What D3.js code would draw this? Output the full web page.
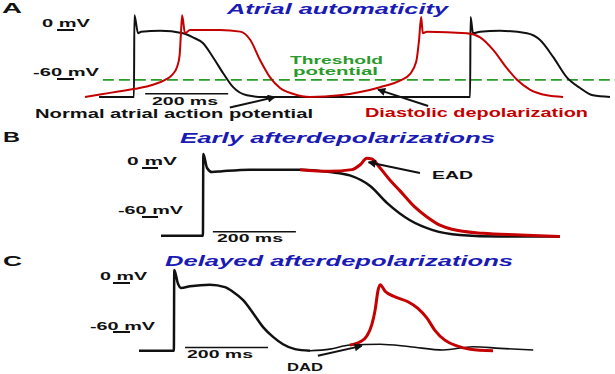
<!DOCTYPE html>
<html>
<head>
<meta charset="utf-8">
<script src="https://cdn.jsdelivr.net/npm/d3@7"></script>
<style>
  body { margin: 0; background: #fff; }
  text { font-family: "Liberation Sans", Arial, sans-serif; font-weight: bold; }
</style>
</head>
<body>
<div id="chart"></div>
<script>
// traces, as [time (ms), membrane potential (mV)]
// A - atrial automaticity
const atrialNormal = [[34,-82],[118,-82],[119,18],[128,-4],[135,-2],[181,-1],[236,-4],[260,-9],[284,-16],
  [308,-33],[333,-53],[357,-70],[390,-80],[429,-82],[928,-82],[929,16],[935,-4],[952,-2],[1000,-1],
  [1065,-4],[1096,-12],[1128,-33],[1161,-58],[1193,-71],[1224,-80],[1265,-82]]
const atrialAuto = [[0,-82],[36,-79],[84,-75],[120,-72],[164,-67],[193,-61],[210,-55],[222,-45],[228,-31],
  [231,-6],[234,18],[241,-4],[253,0],[325,0],[374,-2],[398,-12],[422,-37],[446,-58],[470,-71],[501,-78],
  [542,-82],[614,-80],[663,-76],[711,-70],[759,-62],[783,-54],[798,-39],[805,-12],[810,16],[814,-4],
  [824,-2],[920,-4],[952,-9],[983,-24],[1017,-47],[1041,-61],[1072,-73],[1113,-80],[1152,-82]]
const thresholdMv = -61
const thresholdSpan = [43, 1277]

// B - early afterdepolarizations
const eadNormal = [[0,-83],[101,-83],[102,17],[111,0],[123,-5],[147,-4],[214,-2],[335,-2],[407,-5],
  [455,-9],[504,-22],[545,-43],[600,-64],[655,-76],[720,-82],[817,-84],[961,-84]]
const eadTrace = [[335,-2],[407,-4],[460,-2],[480,4],[496,12],[508,11],[528,0],[552,-15],[576,-28],
  [612,-48],[641,-60],[672,-70],[701,-75],[776,-80],[865,-82],[961,-84]]

// C - delayed afterdepolarizations
const dadNormal = [[0,-83],[84,-83],[85,16],[94,-1],[101,-6],[123,-4],[171,-2],[207,-5],[227,-11],
  [251,-21],[275,-37],[299,-54],[323,-66],[347,-75],[376,-81],[412,-83]]
const dadSub = [[412,-83],[460,-81],[508,-76],[581,-75],[653,-78],[733,-82],[805,-78],[870,-80],[950,-82]]
const dadTrace = [[508,-76],[533,-72],[549,-65],[561,-51],[569,-33],[576,-9],[581,-2],[593,-10],[617,-17],
  [648,-23],[672,-31],[694,-43],[713,-58],[737,-70],[766,-77],[798,-81],[853,-83]]

// calibration
const mvTicks = [0, -60]
const mvLabels = ['0 mV', '-60 mV']
const barMs = 200

const black = '#111', red = '#c40000', blue = '#1a1ab4', green = '#2a9a2a'

const svg = d3.select('#chart')
  .append('svg')
  .attr('width', 615)
  .attr('height', 374)

svg.append('defs').append('marker')
  .attr('id', 'head')
  .attr('markerUnits', 'userSpaceOnUse')
  .attr('viewBox', '0 0 10 10')
  .attr('refX', 9).attr('refY', 5)
  .attr('markerWidth', 11).attr('markerHeight', 8)
  .attr('orient', 'auto')
  .append('path').attr('d', 'M0,0 L10,5 L0,10 Z').attr('fill', black)

function text(str, x, y, len, size, color) {
  return svg.append('text')
    .attr('x', x).attr('y', y)
    .attr('textLength', len)
    .attr('lengthAdjust', 'spacingAndGlyphs')
    .attr('font-size', size)
    .attr('fill', color || black)
    .text(str)
}

// same time base in all panels: 200 ms = 83 px, 60 mV = 49 px
function panel(t0, zero) {
  const x = d3.scaleLinear().domain([0, barMs]).range([t0, t0 + 83])
  const y = d3.scaleLinear().domain([0, -60]).range([zero, zero + 49])
  const line = d3.line().x(d => x(d[0])).y(d => y(d[1])).curve(d3.curveMonotoneX)
  return { x, y, line }
}

function trace(p, data, color, w) {
  svg.append('path')
    .datum(data)
    .attr('d', p.line)
    .attr('fill', 'none')
    .attr('stroke', color)
    .attr('stroke-width', w)
    .attr('stroke-linejoin', 'round')
}

function arrow(p, from, to) {
  svg.append('line')
    .attr('x1', p.x(from[0])).attr('y1', p.y(from[1]))
    .attr('x2', p.x(to[0])).attr('y2', p.y(to[1]))
    .attr('stroke', black).attr('stroke-width', 2)
    .attr('marker-end', 'url(#head)')
}

function calib(p, tickX, barStart, barMv, lab) {
  mvTicks.forEach((v, i) => {
    svg.append('line')
      .attr('x1', tickX[0]).attr('x2', tickX[1])
      .attr('y1', p.y(v)).attr('y2', p.y(v))
      .attr('stroke', black).attr('stroke-width', 2)
    text(mvLabels[i], lab[i][0], lab[i][1], lab[i][2], 11)
  })
  svg.append('line')
    .attr('x1', p.x(barStart)).attr('x2', p.x(barStart + barMs))
    .attr('y1', p.y(barMv)).attr('y2', p.y(barMv))
    .attr('stroke', black).attr('stroke-width', 1.5)
}

// ---- A
const pA = panel(85, 30)
svg.append('line')
  .attr('x1', pA.x(thresholdSpan[0])).attr('x2', pA.x(thresholdSpan[1]))
  .attr('y1', pA.y(thresholdMv)).attr('y2', pA.y(thresholdMv))
  .attr('stroke', green).attr('stroke-width', 1.8)
  .attr('stroke-dasharray', '11,5')
trace(pA, atrialNormal, black, 2)
trace(pA, atrialAuto, red, 2)
calib(pA, [57, 74], 145, -78, [[42, 27, 48], [33, 76, 66]])
text('200 ms', 152, 105, 66, 11)
arrow(pA, [349, -95], [458, -82])
arrow(pA, [827, -93], [706, -73])
text('A', 2, 13, 20, 15)
text('Atrial automaticity', 227, 14, 221, 15, blue).attr('font-style', 'italic')
text('Threshold', 290, 63.5, 93, 10, green)
text('potential', 293, 75, 85, 10, green)
text('Normal atrial action potential', 35, 118, 278, 13)
text('Diastolic depolarization', 365, 117, 223, 13, red)

// ---- B
const pB = panel(161, 168)
trace(pB, eadNormal, black, 2.5)
trace(pB, eadTrace, red, 3)
calib(pB, [142, 158], 125, -78, [[127, 165, 50], [118, 214, 65]])
text('200 ms', 217, 242, 66, 11)
arrow(pB, [624, -6], [500, 7])
text('B', 3, 142, 17, 14)
text('Early afterdepolarizations', 180, 143, 315, 14, blue).attr('font-style', 'italic')
text('EAD', 432, 179, 41, 11)

// ---- C
const pC = panel(139, 283)
trace(pC, dadNormal, black, 2.5)
trace(pC, dadSub, black, 1.6)
trace(pC, dadTrace, red, 3)
calib(pC, [113, 130], 111, -79, [[100, 280, 47], [90, 330, 65]])
text('200 ms', 187, 358, 66, 11)
arrow(pC, [431, -89], [537, -77])
text('C', 3, 266, 19, 14)
text('Delayed afterdepolarizations', 165, 266, 348, 14, blue).attr('font-style', 'italic')
text('DAD', 287, 371, 36, 11)
</script>
</body>
</html>
